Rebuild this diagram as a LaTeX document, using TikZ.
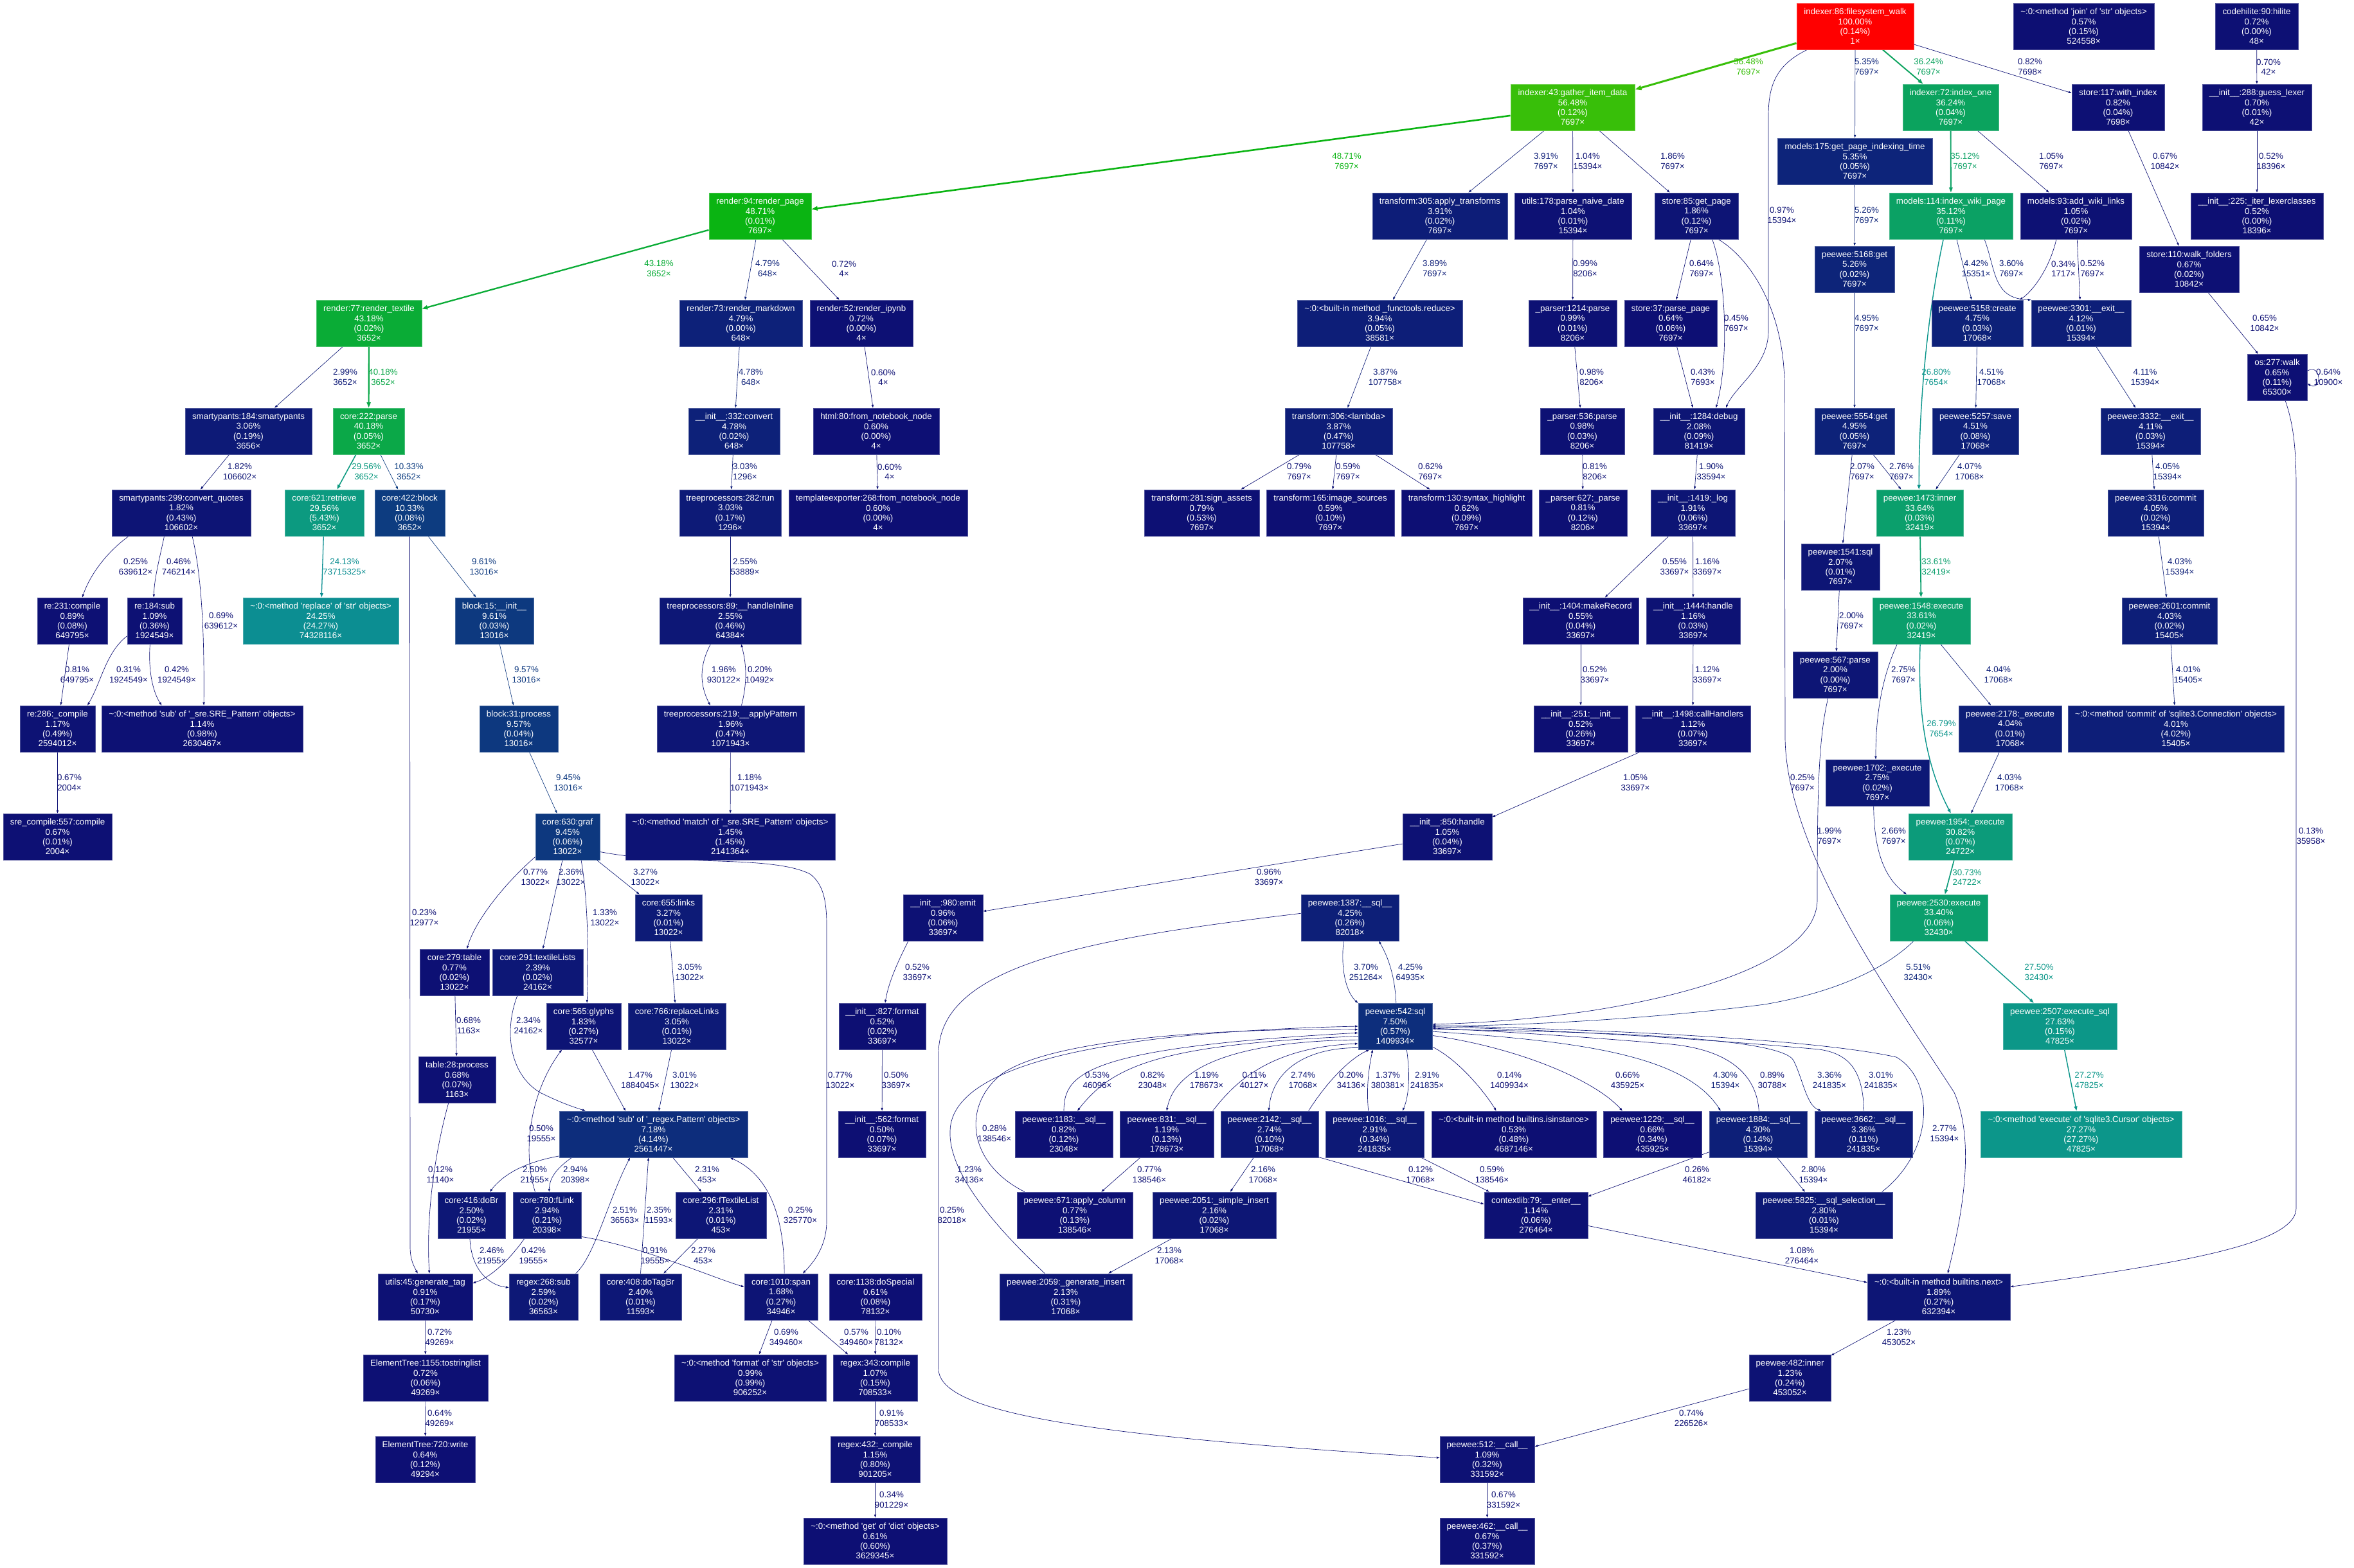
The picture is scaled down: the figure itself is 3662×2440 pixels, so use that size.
\documentclass[tikz,border=0pt]{standalone}
\usepackage{fontspec}
\setmainfont{Liberation Sans}[Ligatures=TeXOff]
\usetikzlibrary{arrows.meta}
\pgfdeclarelayer{back}\pgfdeclarelayer{bg}\pgfsetlayers{back,bg,main}
\newcommand\gvf{\fontsize{13.33pt}{15.3pt}\selectfont}
% gprof2dot temperature colour map (HSL)
\newcommand\gphue[2]{%
  \pgfmathsetmacro\gpt{#2}%
  \pgfmathsetmacro\gpt{\gpt<0 ? \gpt+1 : (\gpt>1 ? \gpt-1 : \gpt)}%
  \pgfmathsetmacro#1{ifthenelse(\gpt*6<1, \gpma+(\gpmb-\gpma)*\gpt*6, ifthenelse(\gpt*2<1, \gpmb, ifthenelse(\gpt*3<2, \gpma+(\gpmb-\gpma)*(2/3-\gpt)*6, \gpma)))}}
\newcommand\gpcol[2]{%
  \pgfmathsetmacro\gpw{#2}%
  \pgfmathsetmacro\gph{2/3*(1-\gpw)}%
  \pgfmathsetmacro\gps{0.8+0.2*\gpw}%
  \pgfmathsetmacro\gpl{0.25+0.25*\gpw}%
  \pgfmathsetmacro\gpmb{\gpl*(1+\gps)}%
  \pgfmathsetmacro\gpma{2*\gpl-\gpmb}%
  \gphue\gpr{\gph+1/3}\gphue\gpg{\gph}\gphue\gpb{\gph-1/3}%
  \definecolor{#1}{rgb}{\gpr,\gpg,\gpb}}
\tikzset{
 box/.style={/utils/exec={\gpcol{ncol}{#1/100}}, rectangle, fill=ncol, draw=ncol!72!white, line width=0.9pt, text=white, font=\gvf, align=center, inner sep=0pt, minimum height=72pt},
 lab/.style={/utils/exec={\gpcol{lcol}{#1/100}}, text=lcol, font=\gvf, align=center, inner sep=0pt},
 ed/.style={/utils/exec={\gpcol{ecol}{#1/100}\pgfmathsetmacro\gppw{max(#1/25,0.5)}\pgfmathsetmacro\gplw{\gppw*4/3}\pgfmathsetmacro\gpal{6.667*sqrt(\gppw)}\pgfmathsetmacro\gpaw{0.7*\gpal}}, draw=ecol, line width=\gplw pt, -{Triangle[length=\gpal pt,width=\gpaw pt]}},
}
\newcommand\GN[8]{\node[box=#6, minimum width=#4pt] (#1) at (#2,#3) {#5\\#6\%\\(#7\%)\\#8×};}
\newcounter{elc}
\newcommand\EL[4]{\stepcounter{elc}\node[lab=#1] (el\arabic{elc}) at (#2,#3) {#1\%\\#4×};}
\newcommand\tl{\textasciitilde}
\begin{document}
\begin{tikzpicture}[x=1pt,y=-1pt]
\begin{pgfonlayer}{back}
\fill[white] (0,0) rectangle (3662,2440);
\end{pgfonlayer}
\useasboundingbox (0,0) rectangle (3662,2440);
% ---------------- nodes ----------------
\GN{fw}{2886}{41}{182}{indexer:86:filesystem\_walk}{100.00}{0.14}{1}
\GN{join}{3241.5}{41}{219}{\tl:0:<method 'join' of 'str' objects>}{0.57}{0.15}{524558}
\GN{hilite}{3510.5}{41}{129}{codehilite:90:hilite}{0.72}{0.00}{48}
\GN{gid}{2446.5}{167}{193}{indexer:43:gather\_item\_data}{56.48}{0.12}{7697}
\GN{idx1}{3034.5}{167}{149}{indexer:72:index\_one}{36.24}{0.04}{7697}
\GN{s117}{3295}{167}{144}{store:117:with\_index}{0.82}{0.04}{7698}
\GN{guess}{3511}{167}{170}{\_\_init\_\_:288:guess\_lexer}{0.70}{0.01}{42}
\GN{m175}{2885.5}{251}{241}{models:175:get\_page\_indexing\_time}{5.35}{0.05}{7697}
\GN{rp}{1182.5}{336}{159}{render:94:render\_page}{48.71}{0.01}{7697}
\GN{t305}{2240}{336}{210}{transform:305:apply\_transforms}{3.91}{0.02}{7697}
\GN{u178}{2447}{336}{182}{utils:178:parse\_naive\_date}{1.04}{0.01}{15394}
\GN{s85}{2639}{336}{130}{store:85:get\_page}{1.86}{0.12}{7697}
\GN{m114}{3035}{336}{192}{models:114:index\_wiki\_page}{35.12}{0.11}{7697}
\GN{m93}{3229.5}{336}{173}{models:93:add\_wiki\_links}{1.05}{0.02}{7697}
\GN{iterlex}{3511}{336}{206}{\_\_init\_\_:225:\_iter\_lexerclasses}{0.52}{0.00}{18396}
\GN{p5168}{2885}{419}{124}{peewee:5168:get}{5.26}{0.02}{7697}
\GN{s110}{3405.5}{419}{155}{store:110:walk\_folders}{0.67}{0.02}{10842}
\GN{rtex}{574}{503}{164}{render:77:render\_textile}{43.18}{0.02}{3652}
\GN{rmd}{1152.5}{503}{191}{render:73:render\_markdown}{4.79}{0.00}{648}
\GN{ripy}{1340}{503}{160}{render:52:render\_ipynb}{0.72}{0.00}{4}
\GN{reduce}{2146.5}{503}{257}{\tl:0:<built-in method \_functools.reduce>}{3.94}{0.05}{38581}
\GN{p1214}{2446.5}{503}{137}{\_parser:1214:parse}{0.99}{0.01}{8206}
\GN{s37}{2599}{503}{144}{store:37:parse\_page}{0.64}{0.06}{7697}
\GN{p5158}{3076}{503}{142}{peewee:5158:create}{4.75}{0.03}{17068}
\GN{p3301}{3237.5}{503}{155}{peewee:3301:\_\_exit\_\_}{4.12}{0.01}{15394}
\GN{os277}{3542.5}{587}{93}{os:277:walk}{0.65}{0.11}{65300}
\GN{sp184}{386.5}{671}{197}{smartypants:184:smartypants}{3.06}{0.19}{3656}
\GN{c222}{573.5}{671}{111}{core:222:parse}{40.18}{0.05}{3652}
\GN{conv}{1142}{671}{142}{\_\_init\_\_:332:convert}{4.78}{0.02}{648}
\GN{html80}{1363}{671}{196}{html:80:from\_notebook\_node}{0.60}{0.00}{4}
\GN{t306}{2082.5}{671}{167}{transform:306:<lambda>}{3.87}{0.47}{107758}
\GN{p536}{2461.5}{671}{131}{\_parser:536:parse}{0.98}{0.03}{8206}
\GN{debug}{2643}{671}{142}{\_\_init\_\_:1284:debug}{2.08}{0.09}{81419}
\GN{p5554}{2885}{671}{124}{peewee:5554:get}{4.95}{0.05}{7697}
\GN{p5257}{3073}{671}{134}{peewee:5257:save}{4.51}{0.08}{17068}
\GN{p3332}{3345.5}{671}{155}{peewee:3332:\_\_exit\_\_}{4.11}{0.03}{15394}
\GN{sp299}{282}{798}{216}{smartypants:299:convert\_quotes}{1.82}{0.43}{106602}
\GN{c621}{504.5}{798}{123}{core:621:retrieve}{29.56}{5.43}{3652}
\GN{c422}{637.5}{798}{109}{core:422:block}{10.33}{0.08}{3652}
\GN{tp282}{1136}{798}{158}{treeprocessors:282:run}{3.03}{0.17}{1296}
\GN{tmpl}{1366}{798}{278}{templateexporter:268:from\_notebook\_node}{0.60}{0.00}{4}
\GN{t281}{1869.5}{798}{179}{transform:281:sign\_assets}{0.79}{0.53}{7697}
\GN{t165}{2069.5}{798}{199}{transform:165:image\_sources}{0.59}{0.10}{7697}
\GN{t130}{2281.5}{798}{203}{transform:130:syntax\_highlight}{0.62}{0.09}{7697}
\GN{p627}{2462.5}{798}{137}{\_parser:627:\_parse}{0.81}{0.12}{8206}
\GN{log}{2633.5}{798}{131}{\_\_init\_\_:1419:\_log}{1.91}{0.06}{33697}
\GN{p1473}{2986.5}{798}{135}{peewee:1473:inner}{33.64}{0.03}{32419}
\GN{p3316}{3353.5}{798}{149}{peewee:3316:commit}{4.05}{0.02}{15394}
\GN{p1541}{2863}{882}{122}{peewee:1541:sql}{2.07}{0.01}{7697}
\GN{re231}{112.5}{966}{109}{re:231:compile}{0.89}{0.08}{649795}
\GN{re184}{240.5}{966}{85}{re:184:sub}{1.09}{0.36}{1924549}
\GN{repl}{499}{966}{242}{\tl:0:<method 'replace' of 'str' objects>}{24.25}{24.27}{74328116}
\GN{b15}{769}{966}{122}{block:15:\_\_init\_\_}{9.61}{0.03}{13016}
\GN{hinl}{1136}{966}{220}{treeprocessors:89:\_\_handleInline}{2.55}{0.46}{64384}
\GN{mkrec}{2459}{966}{180}{\_\_init\_\_:1404:makeRecord}{0.55}{0.04}{33697}
\GN{h1444}{2634}{966}{146}{\_\_init\_\_:1444:handle}{1.16}{0.03}{33697}
\GN{p1548}{2989}{966}{152}{peewee:1548:execute}{33.61}{0.02}{32419}
\GN{p2601}{3375}{966}{148}{peewee:2601:commit}{4.03}{0.02}{15405}
\GN{p567}{2855}{1050}{132}{peewee:567:parse}{2.00}{0.00}{7697}
\GN{re286}{89.5}{1134}{117}{re:286:\_compile}{1.17}{0.49}{2594012}
\GN{subsre}{314.5}{1134}{313}{\tl:0:<method 'sub' of '\_sre.SRE\_Pattern' objects>}{1.14}{0.98}{2630467}
\GN{b31}{807}{1134}{122}{block:31:process}{9.57}{0.04}{13016}
\GN{apat}{1136.5}{1134}{229}{treeprocessors:219:\_\_applyPattern}{1.96}{0.47}{1071943}
\GN{i251}{2459}{1134}{146}{\_\_init\_\_:251:\_\_init\_\_}{0.52}{0.26}{33697}
\GN{callh}{2633.5}{1134}{179}{\_\_init\_\_:1498:callHandlers}{1.12}{0.07}{33697}
\GN{p2178}{3127}{1134}{160}{peewee:2178:\_execute}{4.04}{0.01}{17068}
\GN{commit}{3385}{1134}{336}{\tl:0:<method 'commit' of 'sqlite3.Connection' objects>}{4.01}{4.02}{15405}
\GN{p1702}{2920.5}{1218}{161}{peewee:1702:\_execute}{2.75}{0.02}{7697}
\GN{srec}{89.5}{1302}{169}{sre\_compile:557:compile}{0.67}{0.01}{2004}
\GN{c630}{883}{1302}{100}{core:630:graf}{9.45}{0.06}{13022}
\GN{match}{1136}{1302}{326}{\tl:0:<method 'match' of '\_sre.SRE\_Pattern' objects>}{1.45}{1.45}{2141364}
\GN{h850}{2251.5}{1302}{139}{\_\_init\_\_:850:handle}{1.05}{0.04}{33697}
\GN{p1954}{3049.5}{1302}{161}{peewee:1954:\_execute}{30.82}{0.07}{24722}
\GN{c655}{1040}{1428}{104}{core:655:links}{3.27}{0.01}{13022}
\GN{emit}{1467}{1428}{124}{\_\_init\_\_:980:emit}{0.96}{0.06}{33697}
\GN{p1387}{2100}{1428}{152}{peewee:1387:\_\_sql\_\_}{4.25}{0.26}{82018}
\GN{p2530}{3016}{1428}{152}{peewee:2530:execute}{33.40}{0.06}{32430}
\GN{c279}{707}{1513}{108}{core:279:table}{0.77}{0.02}{13022}
\GN{c291}{836.5}{1513}{141}{core:291:textileLists}{2.39}{0.02}{24162}
\GN{c565}{908}{1597}{116}{core:565:glyphs}{1.83}{0.27}{32577}
\GN{c766}{1053}{1597}{152}{core:766:replaceLinks}{3.05}{0.01}{13022}
\GN{f827}{1372.5}{1597}{135}{\_\_init\_\_:827:format}{0.52}{0.02}{33697}
\GN{p542}{2170.5}{1597}{115}{peewee:542:sql}{7.50}{0.57}{1409934}
\GN{p2507}{3204.5}{1597}{177}{peewee:2507:execute\_sql}{27.63}{0.15}{47825}
\GN{table28}{711}{1680}{120}{table:28:process}{0.68}{0.07}{1163}
\GN{rsub}{1016.5}{1765}{293}{\tl:0:<method 'sub' of '\_regex.Pattern' objects>}{7.18}{4.14}{2561447}
\GN{f562}{1372}{1765}{136}{\_\_init\_\_:562:format}{0.50}{0.07}{33697}
\GN{p1183}{1655}{1765}{152}{peewee:1183:\_\_sql\_\_}{0.82}{0.12}{23048}
\GN{p831}{1815}{1765}{146}{peewee:831:\_\_sql\_\_}{1.19}{0.13}{178673}
\GN{p2142}{1975}{1765}{152}{peewee:2142:\_\_sql\_\_}{2.74}{0.10}{17068}
\GN{p1016}{2138.5}{1765}{153}{peewee:1016:\_\_sql\_\_}{2.91}{0.34}{241835}
\GN{isinst}{2355}{1765}{256}{\tl:0:<built-in method builtins.isinstance>}{0.53}{0.48}{4687146}
\GN{p1229}{2570.5}{1765}{153}{peewee:1229:\_\_sql\_\_}{0.66}{0.34}{435925}
\GN{p1884}{2735}{1765}{152}{peewee:1884:\_\_sql\_\_}{4.30}{0.14}{15394}
\GN{p3662}{2899}{1765}{152}{peewee:3662:\_\_sql\_\_}{3.36}{0.11}{241835}
\GN{execcur}{3237.5}{1765}{313}{\tl:0:<method 'execute' of 'sqlite3.Cursor' objects>}{27.27}{27.27}{47825}
\GN{c416}{733.5}{1891}{105}{core:416:doBr}{2.50}{0.02}{21955}
\GN{c780}{851}{1891}{106}{core:780:fLink}{2.94}{0.21}{20398}
\GN{c296}{1121.5}{1891}{141}{core:296:fTextileList}{2.31}{0.01}{453}
\GN{p671}{1672}{1891}{180}{peewee:671:apply\_column}{0.77}{0.13}{138546}
\GN{p2051}{1889}{1891}{192}{peewee:2051:\_simple\_insert}{2.16}{0.02}{17068}
\GN{ctx}{2389.5}{1891}{161}{contextlib:79:\_\_enter\_\_}{1.14}{0.06}{276464}
\GN{p5825}{2837.5}{1891}{213}{peewee:5825:\_\_sql\_selection\_\_}{2.80}{0.01}{15394}
\GN{utils45}{661.5}{2018}{147}{utils:45:generate\_tag}{0.91}{0.17}{50730}
\GN{rx268}{845.5}{2018}{107}{regex:268:sub}{2.59}{0.02}{36563}
\GN{c408}{996.5}{2018}{127}{core:408:doTagBr}{2.40}{0.01}{11593}
\GN{c1010}{1215}{2018}{114}{core:1010:span}{1.68}{0.27}{34946}
\GN{c1138}{1362}{2018}{144}{core:1138:doSpecial}{0.61}{0.08}{78132}
\GN{p2059}{1658}{2018}{206}{peewee:2059:\_generate\_insert}{2.13}{0.31}{17068}
\GN{bnext}{3016}{2018}{222}{\tl:0:<built-in method builtins.next>}{1.89}{0.27}{632394}
\GN{et1155}{662}{2144}{194}{ElementTree:1155:tostringlist}{0.72}{0.06}{49269}
\GN{fmt}{1167}{2144}{236}{\tl:0:<method 'format' of 'str' objects>}{0.99}{0.99}{906252}
\GN{rx343}{1361.5}{2144}{131}{regex:343:compile}{1.07}{0.15}{708533}
\GN{p482}{2784.5}{2144}{127}{peewee:482:inner}{1.23}{0.24}{453052}
\GN{et720}{661.5}{2271}{155}{ElementTree:720:write}{0.64}{0.12}{49294}
\GN{rx432}{1361.5}{2271}{139}{regex:432:\_compile}{1.15}{0.80}{901205}
\GN{p512}{2313.5}{2271}{147}{peewee:512:\_\_call\_\_}{1.09}{0.32}{331592}
\GN{getd}{1361.5}{2398}{223}{\tl:0:<method 'get' of 'dict' objects>}{0.61}{0.60}{3629345}
\GN{p462}{2313.5}{2398}{147}{peewee:462:\_\_call\_\_}{0.67}{0.37}{331592}
% ---------------- edges ----------------
\begin{pgfonlayer}{bg}
\draw[ed=56.48] (fw) -- (gid);
\draw[ed=36.24] (fw) -- (idx1);
\draw[ed=5.35] (fw) -- (m175);
\draw[ed=0.82] (fw) -- (s117);
\draw[ed=0.97] (fw.206) .. controls (2765,100) and (2751,130) .. (2751,180) -- (2751,515) .. controls (2751,570) and (2700,600) .. (debug.41);
\draw[ed=48.71] (gid) -- (rp);
\draw[ed=3.91] (gid) -- (t305);
\draw[ed=1.04] (gid) -- (u178);
\draw[ed=1.86] (gid) -- (s85);
\draw[ed=43.18] (rp) -- (rtex);
\draw[ed=4.79] (rp) -- (rmd);
\draw[ed=0.72] (rp) -- (ripy);
\draw[ed=4.78] (rmd) -- (conv);
\draw[ed=0.60] (ripy) -- (html80);
\draw[ed=3.03] (conv) -- (tp282);
\draw[ed=0.60] (html80) -- (tmpl);
\draw[ed=2.55] (tp282) -- (hinl);
\draw[ed=1.96] (hinl.230) .. controls (1088,1035) and (1088,1065) .. (apat.131);
\draw[ed=0.20] (apat.65) .. controls (1162,1065) and (1162,1035) .. (hinl.-65);
\draw[ed=1.18] (apat) -- (match);
\draw[ed=3.89] (t305) -- (reduce);
\draw[ed=3.87] (reduce) -- (t306);
\draw[ed=0.79] (t306) -- (t281);
\draw[ed=0.59] (t306) -- (t165);
\draw[ed=0.62] (t306) -- (t130);
\draw[ed=0.99] (u178) -- (p1214);
\draw[ed=0.98] (p1214) -- (p536);
\draw[ed=0.81] (p536) -- (p627);
\draw[ed=0.64] (s85) -- (s37);
\draw[ed=0.45] (s85.-56) .. controls (2685,430) and (2690,560) .. (debug.54);
\draw[ed=0.25] (s85.-47) .. controls (2720,400) and (2776,480) .. (2776,600) -- (2777,1150) .. controls (2780,1330) and (2950,1560) .. (3040,1700) .. controls (3075,1780) and (3050,1900) .. (bnext.69);
\draw[ed=0.43] (s37) -- (debug);
\draw[ed=1.90] (debug) -- (log);
\draw[ed=0.55] (log) -- (mkrec);
\draw[ed=1.16] (log) -- (h1444);
\draw[ed=0.52] (mkrec) -- (i251);
\draw[ed=1.12] (h1444) -- (callh);
\draw[ed=1.05] (callh) -- (h850);
\draw[ed=0.96] (h850) -- (emit);
\draw[ed=0.52] (emit.214) .. controls (1395,1500) and (1382,1530) .. (f827.83);
\draw[ed=0.50] (f827) -- (f562);
\draw[ed=35.12] (idx1) -- (m114);
\draw[ed=1.05] (idx1) -- (m93);
\draw[ed=0.67] (s117) -- (s110);
\draw[ed=0.65] (s110) -- (os277);
\draw[ed=0.64] (os277.12) .. controls (3612,565) and (3612,610) .. (os277.-12);
\draw[ed=0.70] (hilite) -- (guess);
\draw[ed=0.52] (guess) -- (iterlex);
\draw[ed=5.26] (m175) -- (p5168);
\draw[ed=4.95] (p5168) -- (p5554);
\draw[ed=4.42] (m114) -- (p5158);
\draw[ed=3.60] (m114.-35) .. controls (3105,420) and (3100,465) .. (p3301.155);
\draw[ed=0.34] (m93.230) .. controls (3188,420) and (3160,455) .. (p5158.29);
\draw[ed=0.52] (m93) -- (p3301);
\draw[ed=26.80] (m114.252) .. controls (3000,480) and (2985,620) .. (p1473.92);
\draw[ed=4.51] (p5158) -- (p5257);
\draw[ed=4.11] (p3301) -- (p3332);
\draw[ed=2.07] (p5554) -- (p1541);
\draw[ed=2.76] (p5554) -- (p1473);
\draw[ed=4.07] (p5257) -- (p1473);
\draw[ed=4.05] (p3332) -- (p3316);
\draw[ed=33.61] (p1473) -- (p1548);
\draw[ed=4.03] (p3316) -- (p2601);
\draw[ed=2.00] (p1541) -- (p567);
\draw[ed=2.75] (p1548.224) .. controls (2925,1060) and (2918,1120) .. (p1702.94);
\draw[ed=26.79] (p1548.267) .. controls (2984,1090) and (2990,1180) .. (p1954.112);
\draw[ed=4.04] (p1548) -- (p2178);
\draw[ed=4.01] (p2601) -- (commit);
\draw[ed=4.03] (p2178) -- (p1954);
\draw[ed=2.66] (p1702.261) .. controls (2915,1320) and (2930,1365) .. (p2530.144);
\draw[ed=1.99] (p567.253) .. controls (2828,1150) and (2827,1250) .. (2827,1400) .. controls (2827,1490) and (2650,1545) .. (2480,1572) .. controls (2380,1587) and (2300,1592) .. (p542.3);
\draw[ed=30.73] (p1954) -- (p2530);
\draw[ed=5.51] (p2530.223) .. controls (2930,1510) and (2850,1545) .. (2745,1563) .. controls (2550,1588) and (2350,1596) .. (p542.0);
\draw[ed=27.50] (p2530) -- (p2507);
\draw[ed=27.27] (p2507) -- (execcur);
\draw[ed=0.13] (os277.-71) .. controls (3568,660) and (3572,700) .. (3572,760) -- (3572,1880) .. controls (3572,1935) and (3400,1965) .. (bnext.8);
\draw[ed=3.70] (p1387.255) .. controls (2085,1510) and (2095,1545) .. (p542.148);
\draw[ed=4.25] (p542.88) .. controls (2170,1520) and (2160,1490) .. (p1387.-39);
\draw[ed=0.25] (p1387.175) .. controls (1700,1460) and (1460,1500) .. (1460,1640) -- (1460,2130) .. controls (1460,2200) and (1700,2235) .. (p512.178);
\draw[ed=2.99] (rtex) -- (sp184);
\draw[ed=40.18] (rtex) -- (c222);
\draw[ed=1.82] (sp184) -- (sp299);
\draw[ed=29.56] (c222) -- (c621);
\draw[ed=10.33] (c222) -- (c422);
\draw[ed=0.25] (sp299.204) .. controls (165,860) and (140,895) .. (re231.67);
\draw[ed=0.46] (sp299.234) .. controls (248,870) and (240,900) .. (re184.92);
\draw[ed=0.69] (sp299.-65) .. controls (315,900) and (318,1000) .. (subsre.86);
\draw[ed=24.13] (c621) -- (repl);
\draw[ed=9.61] (c422) -- (b15);
\draw[ed=0.23] (c422.-90) -- (638,1940) .. controls (638,1962) and (645,1972) .. (utils45.108);
\draw[ed=0.81] (re231) -- (re286);
\draw[ed=0.31] (re184.209) .. controls (165,1015) and (158,1060) .. (re286.38);
\draw[ed=0.42] (re184.259) .. controls (230,1050) and (240,1080) .. (subsre.150);
\draw[ed=0.67] (re286) -- (srec);
\draw[ed=9.57] (b15) -- (b31);
\draw[ed=9.45] (b31) -- (c630);
\draw[ed=0.77] (c630.212) .. controls (790,1370) and (740,1430) .. (c279.62);
\draw[ed=2.36] (c630) -- (c291);
\draw[ed=1.33] (c630.-60) .. controls (915,1400) and (916,1500) .. (c565.82);
\draw[ed=3.27] (c630) -- (c655);
\draw[ed=0.77] (c630.-25) .. controls (1050,1348) and (1200,1330) .. (1260,1360) .. controls (1280,1375) and (1286,1400) .. (1286,1440) -- (1286,1900) .. controls (1286,1940) and (1265,1965) .. (c1010.47);
\draw[ed=0.68] (c279) -- (table28);
\draw[ed=2.34] (c291.229) .. controls (785,1600) and (790,1670) .. (840,1700) .. controls (870,1715) and (890,1722) .. (rsub.161);
\draw[ed=3.05] (c655) -- (c766);
\draw[ed=1.47] (c565.-70) -- (rsub.140);
\draw[ed=3.01] (c766.257) -- (rsub.77);
\draw[ed=0.12] (table28.250) .. controls (680,1780) and (662,1880) .. (utils45.80);
\draw[ed=2.50] (rsub.193) .. controls (820,1808) and (785,1825) .. (c416.52);
\draw[ed=2.94] (rsub.196) .. controls (870,1815) and (855,1830) .. (c780.85);
\draw[ed=2.31] (rsub) -- (c296);
\draw[ed=0.25] (c1010.82) .. controls (1220,1900) and (1200,1830) .. (rsub.-17);
\draw[ed=2.35] (c408.90) -- (rsub.-102);
\draw[ed=2.27] (c296) -- (c408);
\draw[ed=0.50] (c780.117) .. controls (812,1790) and (825,1700) .. (c565.227);
\draw[ed=0.42] (c780.226) .. controls (800,1950) and (770,1985) .. (utils45.16);
\draw[ed=0.91] (c780.-32) .. controls (1000,1940) and (1100,1985) .. (c1010.165);
\draw[ed=2.46] (c416.266) .. controls (733,1975) and (760,2000) .. (rx268.165);
\draw[ed=2.51] (rx268.36) .. controls (925,1955) and (945,1870) .. (rsub.225);
\draw[ed=0.72] (utils45) -- (et1155);
\draw[ed=0.64] (et1155) -- (et720);
\draw[ed=0.69] (c1010) -- (fmt);
\draw[ed=0.57] (c1010) -- (rx343);
\draw[ed=0.10] (c1138) -- (rx343);
\draw[ed=0.91] (rx343) -- (rx432);
\draw[ed=0.34] (rx432) -- (getd);
\draw[ed=0.82] (p542.195) .. controls (1800,1625) and (1730,1660) .. (p1183.60);
\draw[ed=0.53] (p1183.90) .. controls (1655,1670) and (1690,1630) .. (p542.190);
\draw[ed=1.19] (p542.200) .. controls (1950,1620) and (1830,1650) .. (p831.90);
\draw[ed=0.11] (p831.27) .. controls (1910,1700) and (1960,1630) .. (p542.205);
\draw[ed=2.74] (p542.210) .. controls (2040,1630) and (1980,1660) .. (p2142.92);
\draw[ed=0.20] (p2142.31) .. controls (2060,1690) and (2095,1650) .. (p542.222);
\draw[ed=1.37] (p1016.105) .. controls (2125,1690) and (2130,1660) .. (p542.226);
\draw[ed=2.91] (p542.-64) .. controls (2195,1680) and (2190,1710) .. (p1016.40);
\draw[ed=0.14] (p542.-29) .. controls (2270,1650) and (2310,1700) .. (isinst.127);
\draw[ed=0.66] (p542.-14) .. controls (2360,1630) and (2480,1680) .. (p1229.142);
\draw[ed=4.30] (p542.-8) .. controls (2450,1620) and (2620,1640) .. (p1884.148);
\draw[ed=0.89] (p1884.88) .. controls (2733,1680) and (2700,1635) .. (2600,1625) .. controls (2450,1612) and (2300,1603) .. (p542.-3);
\draw[ed=3.36] (p542.-5) .. controls (2500,1605) and (2770,1615) .. (2790,1650) .. controls (2805,1680) and (2810,1720) .. (p3662.151);
\draw[ed=3.01] (p3662.89) .. controls (2898,1670) and (2880,1640) .. (2830,1633) .. controls (2600,1612) and (2350,1600) .. (p542.-1);
\draw[ed=2.77] (p5825.22) .. controls (3010,1790) and (3010,1680) .. (2950,1645) .. controls (2800,1612) and (2400,1600) .. (p542.1);
\draw[ed=0.28] (p671.155) .. controls (1505,1810) and (1495,1720) .. (1560,1670) .. controls (1650,1610) and (1950,1600) .. (p542.185);
\draw[ed=1.23] (p2059.132) .. controls (1560,1920) and (1475,1830) .. (1478,1760) .. controls (1480,1650) and (1750,1605) .. (p542.180);
\draw[ed=0.77] (p831) -- (p671);
\draw[ed=2.16] (p2142) -- (p2051);
\draw[ed=2.13] (p2051) -- (p2059);
\draw[ed=0.12] (p2142.-25) -- (ctx.168);
\draw[ed=0.59] (p1016) -- (ctx);
\draw[ed=0.26] (p1884) -- (ctx);
\draw[ed=2.80] (p1884) -- (p5825);
\draw[ed=1.08] (ctx) -- (bnext);
\draw[ed=1.23] (bnext) -- (p482);
\draw[ed=0.74] (p482) -- (p512);
\draw[ed=0.67] (p512) -- (p462);
\end{pgfonlayer}
% ---------------- edge labels ----------------
\EL{56.48}{2720}{104}{7697}
\EL{36.24}{3000}{104}{7697}
\EL{5.35}{2904}{104}{7697}
\EL{0.82}{3158}{104}{7698}
\EL{0.97}{2772}{335}{15394}
\EL{48.71}{2095}{251}{7697}
\EL{3.91}{2405}{251}{7697}
\EL{1.04}{2470}{251}{15394}
\EL{1.86}{2602}{251}{7697}
\EL{43.18}{1025}{418}{3652}
\EL{4.79}{1194}{418}{648}
\EL{0.72}{1313}{418}{4}
\EL{4.78}{1168}{587}{648}
\EL{0.60}{1374}{587}{4}
\EL{3.03}{1159}{734}{1296}
\EL{0.60}{1384}{734}{4}
\EL{2.55}{1159}{882}{53889}
\EL{1.96}{1126}{1050}{930122}
\EL{0.20}{1182}{1050}{10492}
\EL{1.18}{1166}{1218}{1071943}
\EL{3.89}{2232}{418}{7697}
\EL{3.87}{2155}{587}{107758}
\EL{0.79}{2021}{734}{7697}
\EL{0.59}{2097}{734}{7697}
\EL{0.62}{2225}{734}{7697}
\EL{0.99}{2466}{418}{8206}
\EL{0.98}{2476}{587}{8206}
\EL{0.81}{2481}{734}{8206}
\EL{0.64}{2647}{418}{7697}
\EL{0.45}{2701}{503}{7697}
\EL{0.25}{2804}{1218}{7697}
\EL{0.43}{2649}{587}{7693}
\EL{1.90}{2662}{734}{33594}
\EL{0.55}{2605}{882}{33697}
\EL{1.16}{2656}{882}{33697}
\EL{0.52}{2481}{1050}{33697}
\EL{1.12}{2656}{1050}{33697}
\EL{1.05}{2544}{1218}{33697}
\EL{0.96}{1974}{1365}{33697}
\EL{0.52}{1427}{1513}{33697}
\EL{0.50}{1394}{1681}{33697}
\EL{35.12}{3057}{251}{7697}
\EL{1.05}{3191}{251}{7697}
\EL{0.67}{3368}{251}{10842}
\EL{0.65}{3523}{503}{10842}
\EL{0.64}{3622}{587}{10900}
\EL{0.70}{3529}{104}{42}
\EL{0.52}{3533}{251}{18396}
\EL{5.26}{2904}{335}{7697}
\EL{4.95}{2904}{503}{7697}
\EL{4.42}{3074}{418}{15351}
\EL{3.60}{3129}{418}{7697}
\EL{0.34}{3210}{418}{1717}
\EL{0.52}{3255}{418}{7697}
\EL{26.80}{3012}{587}{7654}
\EL{4.51}{3098}{587}{17068}
\EL{4.11}{3337}{587}{15394}
\EL{2.07}{2897}{734}{7697}
\EL{2.76}{2958}{734}{7697}
\EL{4.07}{3064}{734}{17068}
\EL{4.05}{3372}{734}{15394}
\EL{33.61}{3012}{882}{32419}
\EL{4.03}{3391}{882}{15394}
\EL{2.00}{2880}{966}{7697}
\EL{2.75}{2961}{1050}{7697}
\EL{26.79}{3020}{1134}{7654}
\EL{4.04}{3109}{1050}{17068}
\EL{4.01}{3404}{1050}{15405}
\EL{4.03}{3126}{1218}{17068}
\EL{2.66}{2946}{1301}{7697}
\EL{1.99}{2846}{1301}{7697}
\EL{30.73}{3060}{1365}{24722}
\EL{5.51}{2984}{1513}{32430}
\EL{27.50}{3172}{1513}{32430}
\EL{27.27}{3250}{1681}{47825}
\EL{0.13}{3595}{1301}{35958}
\EL{3.70}{2125}{1513}{251264}
\EL{4.25}{2194}{1513}{64935}
\EL{0.25}{1481}{1891}{82018}
\EL{2.99}{537}{587}{3652}
\EL{40.18}{596}{587}{3652}
\EL{1.82}{373}{734}{106602}
\EL{29.56}{570}{734}{3652}
\EL{10.33}{636}{734}{3652}
\EL{0.25}{211}{882}{639612}
\EL{0.46}{278}{882}{746214}
\EL{0.69}{344}{966}{639612}
\EL{24.13}{536}{882}{73715325}
\EL{9.61}{753}{882}{13016}
\EL{0.23}{660}{1428}{12977}
\EL{0.81}{120}{1050}{649795}
\EL{0.31}{200}{1050}{1924549}
\EL{0.42}{275}{1050}{1924549}
\EL{0.67}{108}{1218}{2004}
\EL{9.57}{819}{1050}{13016}
\EL{9.45}{884}{1218}{13016}
\EL{0.77}{833}{1365}{13022}
\EL{2.36}{888}{1365}{13022}
\EL{1.33}{941}{1428}{13022}
\EL{3.27}{1004}{1365}{13022}
\EL{0.77}{1307}{1681}{13022}
\EL{0.68}{729}{1596}{1163}
\EL{2.34}{822}{1596}{24162}
\EL{3.05}{1073}{1513}{13022}
\EL{1.47}{996}{1681}{1884045}
\EL{3.01}{1065}{1681}{13022}
\EL{0.12}{685}{1828}{11140}
\EL{2.50}{832}{1828}{21955}
\EL{2.94}{895}{1828}{20398}
\EL{2.31}{1100}{1828}{453}
\EL{0.25}{1245}{1891}{325770}
\EL{2.35}{1025}{1891}{11593}
\EL{2.27}{1094}{1954}{453}
\EL{0.50}{842}{1764}{19555}
\EL{0.42}{830}{1954}{19555}
\EL{0.91}{1019}{1954}{19555}
\EL{2.46}{765}{1954}{21955}
\EL{2.51}{972}{1891}{36563}
\EL{0.72}{684}{2081}{49269}
\EL{0.64}{684}{2207}{49269}
\EL{0.69}{1223}{2081}{349460}
\EL{0.57}{1332}{2081}{349460}
\EL{0.10}{1383}{2081}{78132}
\EL{0.91}{1387}{2207}{708533}
\EL{0.34}{1387}{2334}{901229}
\EL{0.82}{1793}{1681}{23048}
\EL{0.53}{1707}{1681}{46096}
\EL{1.19}{1877}{1681}{178673}
\EL{0.11}{1951}{1681}{40127}
\EL{2.74}{2027}{1681}{17068}
\EL{0.20}{2102}{1681}{34136}
\EL{1.37}{2159}{1681}{380381}
\EL{2.91}{2220}{1681}{241835}
\EL{0.14}{2348}{1681}{1409934}
\EL{0.66}{2532}{1681}{435925}
\EL{4.30}{2684}{1681}{15394}
\EL{0.89}{2757}{1681}{30788}
\EL{3.36}{2846}{1681}{241835}
\EL{3.01}{2926}{1681}{241835}
\EL{2.77}{3025}{1764}{15394}
\EL{0.28}{1547}{1764}{138546}
\EL{1.23}{1508}{1828}{34136}
\EL{0.77}{1788}{1828}{138546}
\EL{2.16}{1965}{1828}{17068}
\EL{2.13}{1819}{1954}{17068}
\EL{0.12}{2210}{1828}{17068}
\EL{0.59}{2321}{1828}{138546}
\EL{0.26}{2640}{1828}{46182}
\EL{2.80}{2821}{1828}{15394}
\EL{1.08}{2803}{1954}{276464}
\EL{1.23}{2954}{2081}{453052}
\EL{0.74}{2631}{2207}{226526}
\EL{0.67}{2339}{2334}{331592}
\end{tikzpicture}
\end{document}
